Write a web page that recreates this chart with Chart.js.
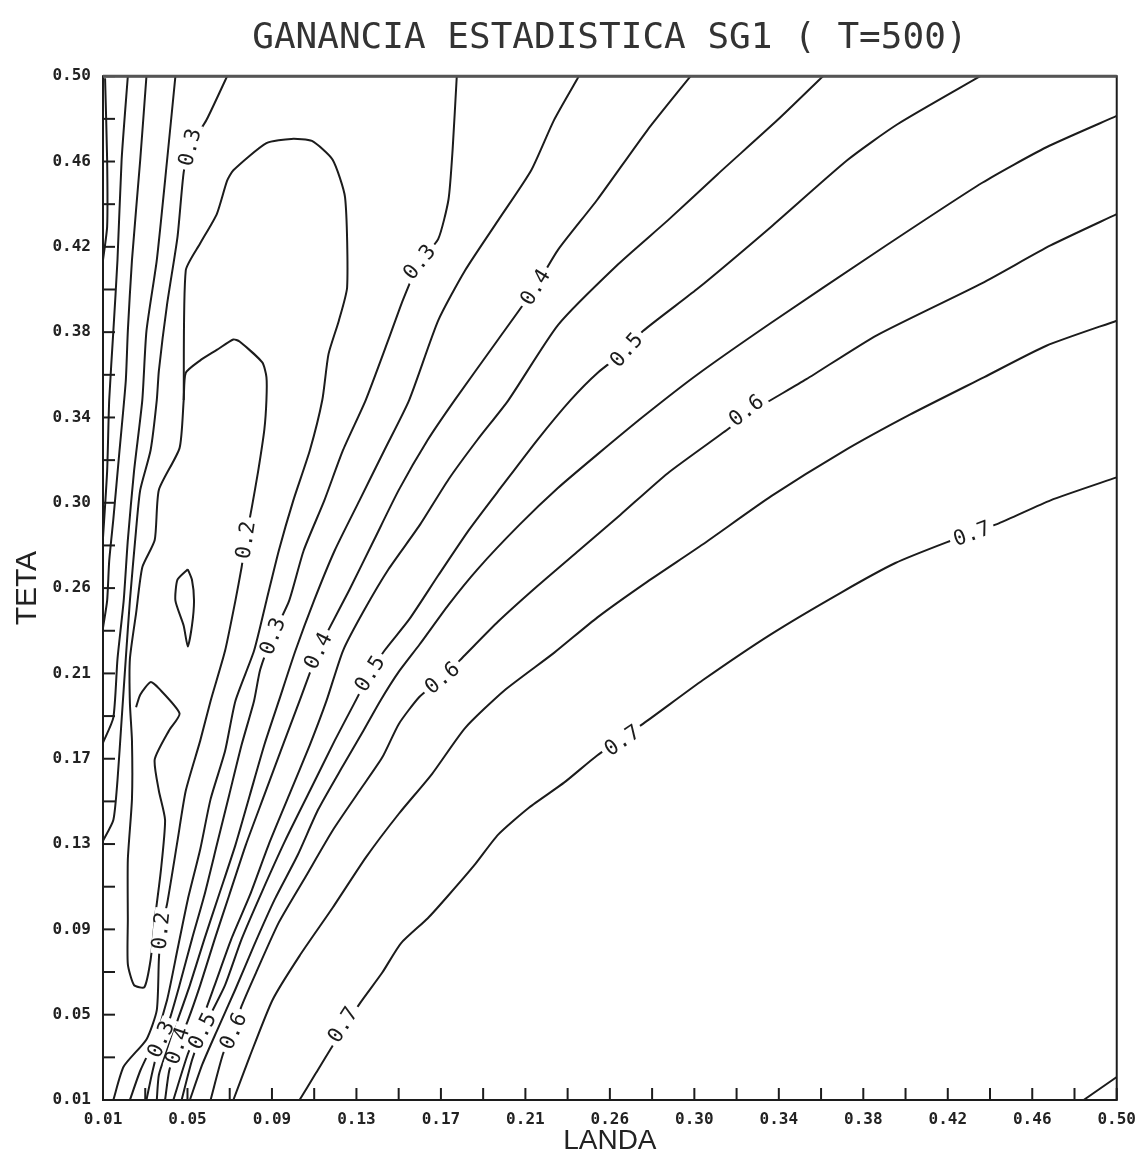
<!DOCTYPE html>
<html lang="es">
<head>
    <meta charset="UTF-8">
    <title>Ganancia estadistica SG1</title>
    <script src="https://cdn.jsdelivr.net/npm/chart.js"></script>
    <style>
        body { margin: 0; background: #ffffff; }
        #caja { width: 1146px; height: 1158px; }
    </style>
</head>
<body>
<div id="caja"><canvas id="sg1" width="1146" height="1158"></canvas></div>
<script>
    // Ejes (landa, teta) y rotulos de las marcas principales
    const landaMin = 0.01, landaMax = 0.50;
    const tetaMin = 0.01, tetaMax = 0.50;
    const rotulos = ['0.01', '0.05', '0.09', '0.13', '0.17', '0.21', '0.26', '0.30', '0.34', '0.38', '0.42', '0.46', '0.50'];

    // Curvas de nivel, puntos [landa, teta]
    const iso075 = [[0.484, 0.010], [0.500, 0.021]];
    const iso070 = [[0.105, 0.010], [0.113, 0.023], [0.121, 0.036], [0.134, 0.056], [0.145, 0.071], [0.154, 0.085], [0.167, 0.097], [0.177, 0.108], [0.190, 0.123], [0.201, 0.137], [0.216, 0.150], [0.233, 0.162], [0.249, 0.175], [0.271, 0.190], [0.300, 0.211], [0.333, 0.233], [0.367, 0.253], [0.393, 0.267], [0.418, 0.277], [0.443, 0.286], [0.468, 0.297], [0.500, 0.308]];
    const iso065 = [[0.073, 0.010], [0.081, 0.031], [0.092, 0.058], [0.105, 0.079], [0.121, 0.102], [0.137, 0.126], [0.153, 0.147], [0.169, 0.166], [0.185, 0.188], [0.204, 0.206], [0.228, 0.224], [0.249, 0.241], [0.273, 0.258], [0.300, 0.276], [0.333, 0.299], [0.367, 0.320], [0.400, 0.338], [0.436, 0.356], [0.466, 0.371], [0.500, 0.383]];
    const iso060 = [[0.062, 0.010], [0.068, 0.032], [0.073, 0.043], [0.077, 0.055], [0.084, 0.071], [0.095, 0.095], [0.108, 0.117], [0.121, 0.139], [0.134, 0.158], [0.145, 0.174], [0.153, 0.190], [0.163, 0.203], [0.174, 0.212], [0.185, 0.223], [0.201, 0.239], [0.220, 0.256], [0.240, 0.273], [0.260, 0.290], [0.283, 0.310], [0.312, 0.331], [0.321, 0.338], [0.350, 0.355], [0.384, 0.376], [0.435, 0.401], [0.468, 0.419], [0.500, 0.434]];
    const iso055 = [[0.500, 0.481], [0.466, 0.466], [0.435, 0.449], [0.384, 0.416], [0.333, 0.382], [0.297, 0.357], [0.271, 0.337], [0.249, 0.319], [0.230, 0.303], [0.211, 0.285], [0.191, 0.264], [0.177, 0.247], [0.163, 0.228], [0.153, 0.215], [0.144, 0.201], [0.136, 0.187], [0.126, 0.170], [0.114, 0.149], [0.104, 0.127], [0.093, 0.106], [0.083, 0.084], [0.074, 0.063], [0.065, 0.043], [0.058, 0.027], [0.052, 0.010]];
    const iso050 = [[0.434, 0.500], [0.394, 0.477], [0.370, 0.460], [0.333, 0.428], [0.297, 0.398], [0.271, 0.378], [0.263, 0.369], [0.249, 0.358], [0.236, 0.345], [0.220, 0.326], [0.203, 0.304], [0.187, 0.283], [0.172, 0.261], [0.158, 0.240], [0.146, 0.225], [0.139, 0.214], [0.131, 0.199], [0.122, 0.182], [0.110, 0.158], [0.098, 0.134], [0.087, 0.110], [0.077, 0.087], [0.069, 0.065], [0.062, 0.051], [0.058, 0.043], [0.053, 0.029], [0.048, 0.010]];
    const iso045 = [[0.358, 0.500], [0.336, 0.479], [0.307, 0.453], [0.283, 0.431], [0.259, 0.410], [0.230, 0.381], [0.206, 0.345], [0.191, 0.326], [0.177, 0.307], [0.163, 0.285], [0.148, 0.264], [0.136, 0.244], [0.126, 0.225], [0.118, 0.201], [0.110, 0.180], [0.100, 0.156], [0.090, 0.132], [0.081, 0.108], [0.072, 0.087], [0.064, 0.065], [0.057, 0.046], [0.051, 0.032], [0.044, 0.010]];
    const iso040 = [[0.294, 0.500], [0.273, 0.474], [0.249, 0.441], [0.230, 0.417], [0.219, 0.399], [0.201, 0.374], [0.180, 0.345], [0.167, 0.326], [0.153, 0.302], [0.141, 0.278], [0.129, 0.254], [0.119, 0.235], [0.114, 0.225], [0.105, 0.201], [0.097, 0.180], [0.088, 0.156], [0.079, 0.132], [0.071, 0.108], [0.064, 0.087], [0.057, 0.065], [0.051, 0.048], [0.046, 0.036], [0.042, 0.024], [0.040, 0.010]];
    const iso035 = [[0.240, 0.500], [0.228, 0.479], [0.217, 0.455], [0.201, 0.431], [0.185, 0.407], [0.172, 0.383], [0.158, 0.345], [0.146, 0.321], [0.134, 0.297], [0.122, 0.273], [0.112, 0.249], [0.103, 0.225], [0.095, 0.201], [0.088, 0.180], [0.081, 0.156], [0.074, 0.132], [0.066, 0.108], [0.059, 0.087], [0.052, 0.065], [0.046, 0.048], [0.041, 0.034], [0.037, 0.022], [0.036, 0.010]];
    const iso030 = [[0.181, 0.500], [0.179, 0.465], [0.177, 0.441], [0.172, 0.422], [0.163, 0.411], [0.155, 0.393], [0.148, 0.374], [0.137, 0.345], [0.126, 0.321], [0.117, 0.297], [0.107, 0.273], [0.100, 0.249], [0.092, 0.232], [0.086, 0.216], [0.083, 0.201], [0.077, 0.180], [0.071, 0.156], [0.065, 0.132], [0.059, 0.108], [0.053, 0.087], [0.047, 0.065], [0.042, 0.048], [0.038, 0.039], [0.034, 0.024], [0.031, 0.010]];
    const iso025 = [[0.049, 0.345], [0.050, 0.407], [0.057, 0.420], [0.065, 0.434], [0.070, 0.450], [0.073, 0.455], [0.089, 0.468], [0.101, 0.470], [0.111, 0.469], [0.121, 0.460], [0.127, 0.442], [0.128, 0.399], [0.124, 0.383], [0.119, 0.367], [0.116, 0.345], [0.110, 0.321], [0.102, 0.297], [0.095, 0.273], [0.089, 0.249], [0.083, 0.225], [0.074, 0.201], [0.069, 0.177], [0.062, 0.154], [0.057, 0.130], [0.051, 0.106], [0.046, 0.082], [0.041, 0.058], [0.035, 0.039], [0.028, 0.024], [0.023, 0.010]];
    const iso020 = [[0.015, 0.010], [0.020, 0.026], [0.031, 0.039], [0.036, 0.053], [0.037, 0.077], [0.038, 0.091], [0.041, 0.104], [0.046, 0.134], [0.050, 0.158], [0.057, 0.182], [0.062, 0.201], [0.069, 0.225], [0.074, 0.249], [0.077, 0.265], [0.079, 0.278], [0.082, 0.294], [0.085, 0.311], [0.088, 0.331], [0.089, 0.345], [0.089, 0.356], [0.087, 0.363], [0.076, 0.373], [0.073, 0.374], [0.065, 0.369], [0.057, 0.364], [0.050, 0.358], [0.049, 0.345], [0.047, 0.322], [0.037, 0.302], [0.035, 0.278], [0.029, 0.265], [0.026, 0.243], [0.023, 0.221], [0.023, 0.200], [0.024, 0.182], [0.024, 0.154], [0.022, 0.125], [0.022, 0.096], [0.022, 0.075], [0.025, 0.065], [0.030, 0.064], [0.033, 0.077], [0.035, 0.096], [0.038, 0.120], [0.040, 0.144], [0.037, 0.158], [0.035, 0.173], [0.042, 0.187], [0.047, 0.195], [0.037, 0.207], [0.033, 0.210], [0.028, 0.204], [0.026, 0.198]];
    const iso015 = [[0.051, 0.264], [0.053, 0.259], [0.054, 0.249], [0.053, 0.237], [0.051, 0.227], [0.049, 0.237], [0.045, 0.249], [0.046, 0.259], [0.051, 0.264]];
    const iso030i = [[0.070, 0.500], [0.060, 0.479], [0.052, 0.466], [0.049, 0.454], [0.046, 0.423], [0.041, 0.391], [0.037, 0.359], [0.036, 0.345], [0.033, 0.321], [0.028, 0.302], [0.026, 0.283], [0.023, 0.249], [0.021, 0.221], [0.019, 0.192], [0.017, 0.163], [0.015, 0.144], [0.010, 0.134]];
    const iso035i = [[0.045, 0.500], [0.041, 0.460], [0.036, 0.412], [0.031, 0.378], [0.029, 0.345], [0.025, 0.311], [0.022, 0.278], [0.020, 0.249], [0.017, 0.221], [0.015, 0.193], [0.010, 0.181]];
    const iso040i = [[0.031, 0.500], [0.028, 0.460], [0.024, 0.412], [0.022, 0.378], [0.021, 0.354], [0.018, 0.321], [0.015, 0.288], [0.013, 0.268], [0.012, 0.249], [0.010, 0.236]];
    const iso045i = [[0.022, 0.500], [0.019, 0.460], [0.017, 0.412], [0.015, 0.378], [0.013, 0.345], [0.012, 0.311], [0.010, 0.279]];
    const iso050i = [[0.011, 0.499], [0.012, 0.460], [0.012, 0.428], [0.010, 0.412]];

    // Rotulos sobre las curvas: [nivel, landa, teta]
    const etiquetas = [
        [0.3, 0.052, 0.466], [0.3, 0.163, 0.411], [0.4, 0.219, 0.399], [0.5, 0.263, 0.369],
        [0.6, 0.321, 0.340], [0.7, 0.430, 0.281], [0.2, 0.079, 0.278], [0.3, 0.092, 0.232],
        [0.4, 0.114, 0.225], [0.5, 0.139, 0.214], [0.6, 0.174, 0.212], [0.7, 0.261, 0.182],
        [0.2, 0.038, 0.091], [0.3, 0.038, 0.039], [0.4, 0.046, 0.036], [0.5, 0.058, 0.043],
        [0.6, 0.073, 0.043], [0.7, 0.126, 0.046]
    ];

    const curvas = [
        [0.75, iso075], [0.7, iso070], [0.65, iso065], [0.6, iso060], [0.55, iso055],
        [0.5, iso050], [0.45, iso045], [0.4, iso040], [0.35, iso035], [0.3, iso030],
        [0.25, iso025], [0.2, iso020], [0.15, iso015],
        [0.3, iso030i], [0.35, iso035i], [0.4, iso040i], [0.45, iso045i], [0.5, iso050i]
    ];

    const TINTA = '#1c1c1c';

    // marcas principales y secundarias (a mitad de intervalo)
    function valoresMarcas(min, max) {
        const paso = (max - min) / ((rotulos.length - 1) * 2);
        const v = [];
        for (let i = 0; i <= (rotulos.length - 1) * 2; i++) v.push(min + i * paso);
        return v;
    }

    const marco = {
        id: 'marco',
        afterDraw(chart) {
            const { ctx, chartArea: a, scales: { x, y } } = chart;
            ctx.save();
            ctx.strokeStyle = TINTA;
            ctx.lineWidth = 2;
            x.ticks.forEach(t => {
                const px = x.getPixelForValue(t.value);
                ctx.beginPath(); ctx.moveTo(px, a.bottom); ctx.lineTo(px, a.bottom - 12); ctx.stroke();
            });
            y.ticks.forEach(t => {
                const py = y.getPixelForValue(t.value);
                ctx.beginPath(); ctx.moveTo(a.left, py); ctx.lineTo(a.left + 12, py); ctx.stroke();
            });
            ctx.strokeRect(a.left, a.top, a.right - a.left, a.bottom - a.top);
            ctx.strokeStyle = '#555';
            ctx.lineWidth = 3;
            ctx.beginPath(); ctx.moveTo(a.left, a.top); ctx.lineTo(a.right, a.top); ctx.stroke();
            ctx.restore();
        }
    };

    const rotulosCurvas = {
        id: 'rotulosCurvas',
        afterDatasetsDraw(chart) {
            const { ctx, scales: { x, y } } = chart;
            ctx.save();
            ctx.font = '21px "DejaVu Sans Mono"';
            ctx.textAlign = 'center';
            ctx.textBaseline = 'middle';
            etiquetas.forEach(([nivel, lx, ly]) => {
                const px = x.getPixelForValue(lx), py = y.getPixelForValue(ly);
                // orientacion segun el tramo mas cercano de la curva
                let mejor = Infinity, ang = 0;
                chart.data.datasets.forEach(ds => {
                    if (ds.nivel !== nivel) return;
                    for (let i = 0; i < ds.data.length - 1; i++) {
                        const ax = x.getPixelForValue(ds.data[i].x), ay = y.getPixelForValue(ds.data[i].y);
                        const bx = x.getPixelForValue(ds.data[i + 1].x), by = y.getPixelForValue(ds.data[i + 1].y);
                        const d = Math.hypot((ax + bx) / 2 - px, (ay + by) / 2 - py);
                        if (d < mejor) { mejor = d; ang = Math.atan2(by - ay, bx - ax); }
                    }
                });
                if (ang > Math.PI / 2) ang -= Math.PI;
                if (ang < -Math.PI / 2) ang += Math.PI;
                const texto = nivel.toFixed(1);
                const w = ctx.measureText(texto).width;
                ctx.save();
                ctx.translate(px, py);
                ctx.rotate(ang);
                ctx.fillStyle = '#ffffff';
                ctx.fillRect(-w / 2 - 4, -8, w + 8, 16);
                ctx.fillStyle = TINTA;
                ctx.fillText(texto, 0, 1);
                ctx.restore();
            });
            ctx.restore();
        }
    };

    const fuenteMarcas = { family: '"DejaVu Sans Mono"', size: 16, weight: 'bold' };

    new Chart(document.getElementById('sg1'), {
        type: 'scatter',
        data: {
            datasets: curvas.map(([nivel, pts]) => ({
                nivel: nivel,
                data: pts.map(p => ({ x: p[0], y: p[1] })),
                showLine: true,
                pointRadius: 0,
                borderColor: TINTA,
                borderWidth: 2,
                tension: 0.2,
                fill: false
            }))
        },
        options: {
            responsive: false,
            animation: false,
            events: [],
            layout: { padding: { left: 0, right: 25, top: 0, bottom: 0 } },
            plugins: {
                legend: { display: false },
                tooltip: { enabled: false },
                title: {
                    display: true,
                    fullSize: false,
                    text: 'GANANCIA ESTADISTICA SG1 ( T=500)',
                    color: '#333',
                    font: { family: '"DejaVu Sans Mono"', size: 36, weight: 'normal' },
                    padding: { top: 17, bottom: 16 }
                }
            },
            scales: {
                x: {
                    type: 'linear',
                    min: landaMin, max: landaMax,
                    afterBuildTicks: s => { s.ticks = valoresMarcas(landaMin, landaMax).map(v => ({ value: v })); },
                    afterFit: s => { s.height = 58; },
                    grid: { display: false, drawTicks: false },
                    border: { display: false },
                    ticks: {
                        autoSkip: false, maxRotation: 0, padding: 10, color: '#222', font: fuenteMarcas,
                        callback: (v, i) => (i % 2 === 0 ? rotulos[i / 2] : '')
                    },
                    title: {
                        display: true, text: 'LANDA', color: '#222',
                        font: { family: '"Liberation Sans"', size: 28 }, padding: { top: 0, bottom: 0 }
                    }
                },
                y: {
                    type: 'linear',
                    min: tetaMin, max: tetaMax,
                    afterBuildTicks: s => { s.ticks = valoresMarcas(tetaMin, tetaMax).map(v => ({ value: v })); },
                    afterFit: s => { s.width = 103; },
                    grid: { display: false, drawTicks: false },
                    border: { display: false },
                    ticks: {
                        autoSkip: false, padding: 12, color: '#222', font: fuenteMarcas,
                        callback: (v, i) => (i % 2 === 0 ? rotulos[i / 2] : '')
                    },
                    title: {
                        display: true, text: 'TETA', color: '#222',
                        font: { family: '"Liberation Sans"', size: 30 }, padding: { top: 10, bottom: 0 }
                    }
                }
            }
        },
        plugins: [marco, rotulosCurvas]
    });
</script>
</body>
</html>
